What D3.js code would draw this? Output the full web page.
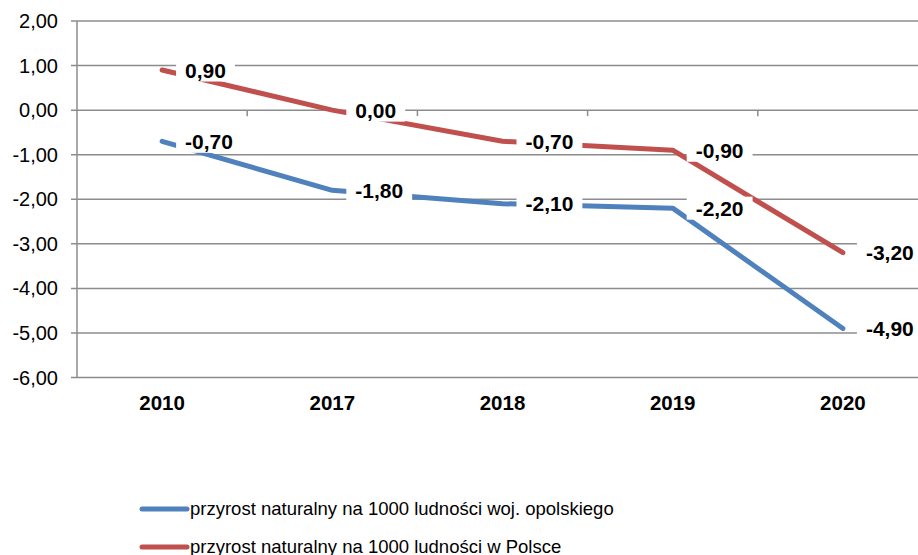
<!DOCTYPE html>
<html>
<head>
<meta charset="utf-8">
<script src="https://cdn.jsdelivr.net/npm/d3@7"></script>
<style>
  body { margin: 0; background: #fff; }
  svg { display: block; font-family: "Liberation Sans", Arial, sans-serif; }
</style>
</head>
<body>
<div></div>
<script>
const years = ["2010", "2017", "2018", "2019", "2020"];
const opolskie = [-0.7, -1.8, -2.1, -2.2, -4.9];
const polska = [0.9, 0.0, -0.7, -0.9, -3.2];
const yTicks = [2, 1, 0, -1, -2, -3, -4, -5, -6];
const seriesNames = [
  "przyrost naturalny na 1000 ludności woj. opolskiego",
  "przyrost naturalny na 1000 ludności w Polsce"
];
const colors = ["#4F81BD", "#C0504D"];

const width = 918;
const height = 555;
const plotLeft = 77;
const plotRight = 928;
const plotTop = 21;
const plotBottom = 377.5;

const svg = d3
  .select("div")
  .append("svg")
  .attr("width", width)
  .attr("height", height);

const scale_X = d3.scaleBand().domain(years).range([plotLeft, plotRight]);
const scale_Y = d3.scaleLinear().domain([-6, 2]).range([plotBottom, plotTop]);

const fmt = (v) => v.toFixed(2).replace(".", ",");

// gridlines
svg
  .append("g")
  .selectAll("line")
  .data(yTicks)
  .enter()
  .append("line")
  .attr("x1", plotLeft - 6)
  .attr("x2", plotRight)
  .attr("y1", (d) => scale_Y(d))
  .attr("y2", (d) => scale_Y(d))
  .attr("stroke", "#8c8c8c")
  .attr("stroke-width", 1.5);

// vertical axis line
svg
  .append("line")
  .attr("x1", plotLeft)
  .attr("x2", plotLeft)
  .attr("y1", plotTop)
  .attr("y2", plotBottom)
  .attr("stroke", "#8c8c8c")
  .attr("stroke-width", 1.5);

// category ticks on the zero line
svg
  .append("g")
  .selectAll("line")
  .data(years.slice(1))
  .enter()
  .append("line")
  .attr("x1", (d) => scale_X(d))
  .attr("x2", (d) => scale_X(d))
  .attr("y1", scale_Y(0))
  .attr("y2", scale_Y(0) + 6)
  .attr("stroke", "#8c8c8c")
  .attr("stroke-width", 1.5);

// y labels
svg
  .append("g")
  .selectAll("text")
  .data(yTicks)
  .enter()
  .append("text")
  .attr("x", plotLeft - 19)
  .attr("y", (d) => scale_Y(d) + 7)
  .attr("text-anchor", "end")
  .attr("font-size", 20)
  .attr("fill", "#000")
  .text(fmt);

// x labels
svg
  .append("g")
  .selectAll("text")
  .data(years)
  .enter()
  .append("text")
  .attr("x", (d) => scale_X(d) + scale_X.bandwidth() / 2)
  .attr("y", 410)
  .attr("text-anchor", "middle")
  .attr("font-size", 20.5)
  .attr("font-weight", "bold")
  .text((d) => d);

const line = d3
  .line()
  .x((d, i) => scale_X(years[i]) + scale_X.bandwidth() / 2)
  .y((d) => scale_Y(d));

[opolskie, polska].forEach((values, k) => {
  svg
    .append("path")
    .datum(values)
    .attr("d", line)
    .attr("fill", "none")
    .attr("stroke", colors[k])
    .attr("stroke-width", 5)
    .attr("stroke-linecap", "round")
    .attr("stroke-linejoin", "round");
});

// data labels with white boxes
[opolskie, polska].forEach((values) => {
  const g = svg.append("g");
  values.forEach((v, i) => {
    const x = scale_X(years[i]) + scale_X.bandwidth() / 2 + 23;
    const y = scale_Y(v);
    const lbl = g.append("g");
    const t = lbl
      .append("text")
      .attr("x", x)
      .attr("y", y + 7.5)
      .attr("font-size", 21)
      .attr("font-weight", "bold")
      .text(fmt(v));
    const b = t.node().getBBox();
    lbl
      .insert("rect", "text")
      .attr("x", b.x - 9)
      .attr("y", b.y)
      .attr("width", b.width + 18)
      .attr("height", b.height)
      .attr("fill", "#fff");
  });
});

// legend
const legend = svg.append("g");
seriesNames.forEach((name, k) => {
  const y = 509 + k * 38;
  legend
    .append("line")
    .attr("x1", 142)
    .attr("x2", 187)
    .attr("y1", y)
    .attr("y2", y)
    .attr("stroke", colors[k])
    .attr("stroke-width", 5)
    .attr("stroke-linecap", "round");
  legend
    .append("text")
    .attr("x", 190)
    .attr("y", y + 6)
    .attr("font-size", 18.5)
    .text(name);
});
</script>
</body>
</html>
